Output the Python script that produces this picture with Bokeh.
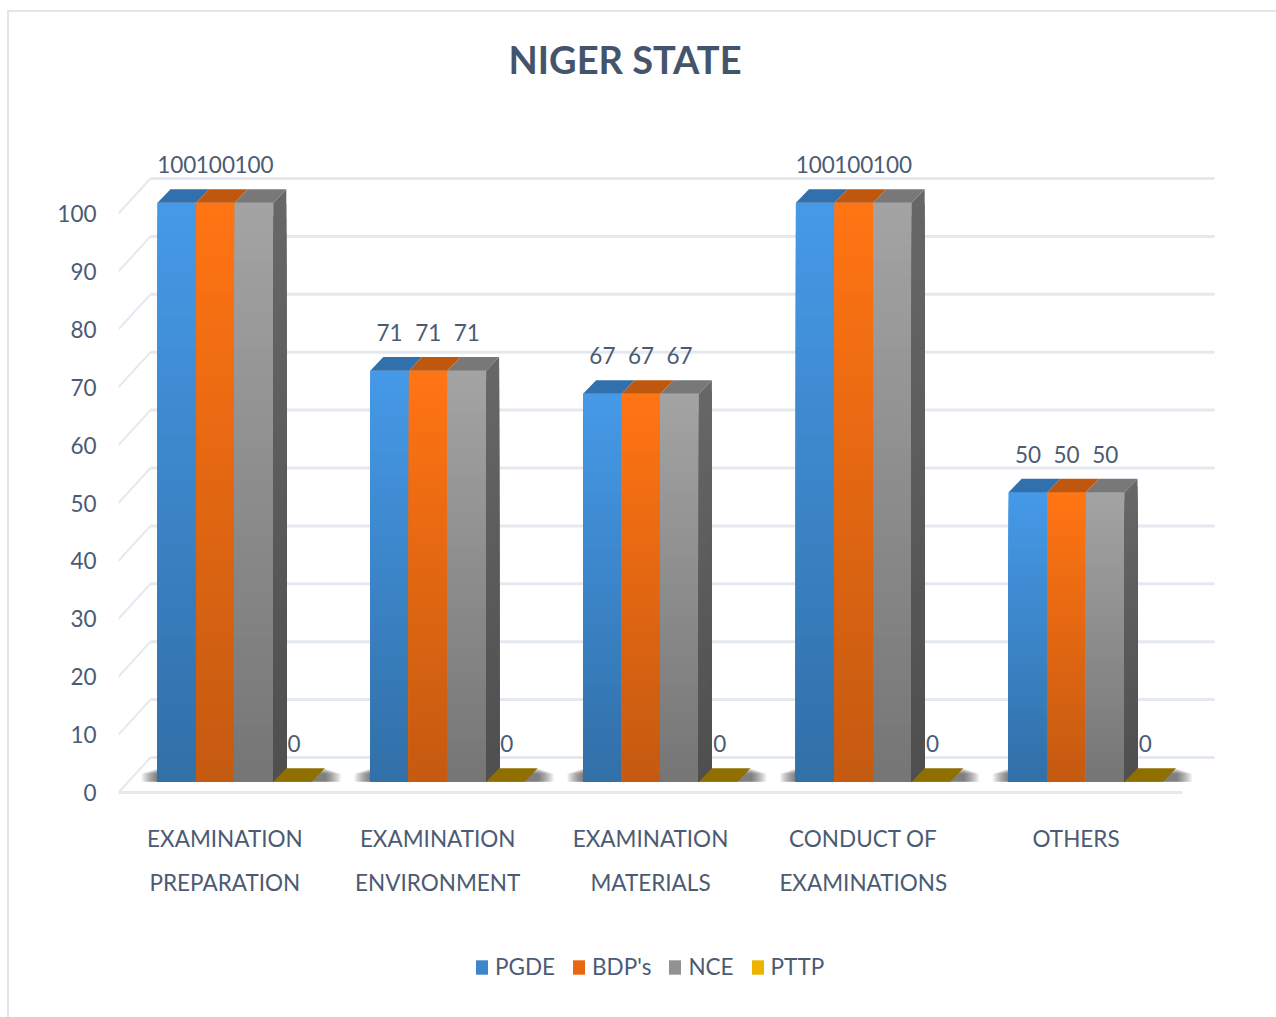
from bokeh.plotting import figure
from bokeh.layouts import column
from bokeh.models import Range1d, FixedTicker, Legend, LegendItem, ColumnDataSource, LinearAxis
from bokeh.core.properties import value
from bokeh.embed import file_html
from bokeh.resources import INLINE

categories = ["EXAMINATION\nPREPARATION", "EXAMINATION\nENVIRONMENT", "EXAMINATION\nMATERIALS",
              "CONDUCT OF\nEXAMINATIONS", "OTHERS"]
series_names = ["PGDE", "BDP's", "NCE", "PTTP"]
pgde = [100, 71, 67, 100, 50]
bdps = [100, 71, 67, 100, 50]
nce = [100, 71, 67, 100, 50]
pttp = [0, 0, 0, 0, 0]
y_ticks = [0, 10, 20, 30, 40, 50, 60, 70, 80, 90, 100]
title_text = "NIGER STATE"

FONT = "Lato"
FS = "22.5px"
TXT = "#4b5b73"
GRID = "#e4e8ef"

# colours: (top, bottom, top face, side top, side bottom, legend)
styles = [("#4599e7", "#3270a8", "#3270ad", None, None, "#3d86cb"),
          ("#ff7413", "#c55a11", "#c0570f", None, None, "#e8660f"),
          ("#a3a3a3", "#767676", "#787878", "#676767", "#4f4f4f", "#929292"),
          ("#ffc000", "#bf9000", "#8f6f00", None, None, "#ecb400")]

PX_X = 212.8          # pixels per category
PX_Y = 5.79           # pixels per y unit
WALL_X, WALL_Y = 32 / PX_X, 35 / PX_Y       # depth of the floor
FRONT_X, FRONT_Y = 10 / PX_X, 10.7 / PX_Y   # front plane of the bars
DEEP_X, DEEP_Y = 13 / PX_X, 13.6 / PX_Y     # depth of a bar
BAR = 38.6 / PX_X
GAP = 29 / PX_X
FRAME_W, FRAME_H = 1158, 703

p = figure(frame_width=FRAME_W, frame_height=FRAME_H, output_backend="svg", toolbar_location=None,
           x_range=Range1d(0, FRAME_W / PX_X), y_range=Range1d(0, FRAME_H / PX_Y),
           x_axis_type=None, y_axis_type=None,
           min_border_left=109, min_border_right=0, min_border_top=77, min_border_bottom=152,
           title=title_text)
p.outline_line_color = None
p.grid.visible = False
p.title.text_font = FONT
p.title.text_font_size = "38px"
p.title.text_font_style = "bold"
p.title.text_color = "#44546a"
p.title.align = "left"
p.title.offset = 390
p.title.standoff = 16

# axes
n = len(categories)
xaxis = LinearAxis(ticker=FixedTicker(ticks=[i + 0.5 for i in range(n)]),
                   major_label_overrides={i + 0.5: c for i, c in enumerate(categories)},
                   bounds=(0, n), axis_line_color=GRID, axis_line_width=3,
                   major_tick_line_color=None, minor_tick_line_color=None,
                   major_label_text_font=FONT, major_label_text_font_size=FS,
                   major_label_text_color=TXT, major_label_standoff=26,
                   major_label_text_line_height=1.64)
p.add_layout(xaxis, "below")
yaxis = LinearAxis(ticker=FixedTicker(ticks=y_ticks), axis_line_color=None,
                   major_tick_line_color=None, minor_tick_line_color=None,
                   major_label_text_font=FONT, major_label_text_font_size=FS,
                   major_label_text_color=TXT, major_label_standoff=16)
p.add_layout(yaxis, "left")

# walls
p.multi_line(xs=[[0, WALL_X] for _ in y_ticks], ys=[[v, v + WALL_Y] for v in y_ticks],
             line_color=GRID, line_width=2)
p.multi_line(xs=[[WALL_X, n + WALL_X] for _ in y_ticks], ys=[[v + WALL_Y] * 2 for v in y_ticks],
             line_color=GRID, line_width=3)


def mix(a, b, t):
    ca = [int(a[i:i + 2], 16) for i in (1, 3, 5)]
    cb = [int(b[i:i + 2], 16) for i in (1, 3, 5)]
    return "#%02x%02x%02x" % tuple(round(x + (y - x) * t) for x, y in zip(ca, cb))


def bar_left(i, s):
    return i + GAP + FRONT_X + s * BAR


# soft floor shadow
for e in range(16, 0, -1):
    p.quad(left=[bar_left(i, 0) - e / PX_X for i in range(n)],
           right=[bar_left(i, 4) + DEEP_X + e / PX_X for i in range(n)],
           bottom=[FRONT_Y] * n, top=[FRONT_Y + DEEP_Y * (1 - e / 40)] * n,
           fill_color="#303030", fill_alpha=0.05, line_color=None)

BANDS = 40
values = [pgde, bdps, nce, pttp]
for s, (name, vals, st) in enumerate(zip(series_names, values, styles)):
    lefts = [bar_left(i, s) for i in range(n)]
    rights = [l + BAR for l in lefts]
    p.quad(left=lefts, right=rights, bottom=[FRONT_Y] * n, top=[v + FRONT_Y for v in vals],
           fill_color=st[5], line_color=None)
    if max(vals) > 0:
        d = dict(left=[], right=[], top=[], bottom=[], color=[])
        for i, v in enumerate(vals):
            for k in range(BANDS):
                d["left"].append(lefts[i])
                d["right"].append(rights[i])
                d["top"].append(FRONT_Y + v * (1 - k / BANDS))
                d["bottom"].append(FRONT_Y)
                d["color"].append(mix(st[0], st[1], k / (BANDS - 1)))
        p.quad(left="left", right="right", top="top", bottom="bottom", fill_color="color",
               line_color=None, source=ColumnDataSource(d))
    if st[3]:
        xs, ys, cs = [], [], []
        for i, v in enumerate(vals):
            for k in range(BANDS):
                t0 = v * (1 - k / BANDS)
                r = rights[i]
                xs.append([r, r + DEEP_X, r + DEEP_X, r])
                ys.append([FRONT_Y + t0, FRONT_Y + t0 + DEEP_Y, FRONT_Y + DEEP_Y, FRONT_Y])
                cs.append(mix(st[3], st[4], k / (BANDS - 1)))
        p.patches(xs, ys, fill_color=cs, line_color=None)
    p.patches([[l, r, r + DEEP_X, l + DEEP_X] for l, r in zip(lefts, rights)],
              [[v + FRONT_Y, v + FRONT_Y, v + FRONT_Y + DEEP_Y, v + FRONT_Y + DEEP_Y] for v in vals],
              fill_color=st[2], line_color=None)

# data labels
for s, vals in enumerate(values):
    p.text(x=[bar_left(i, s) + BAR / 2 + (1.5 if s == 3 else 0) / PX_X for i in range(n)],
           y=[v + FRONT_Y for v in vals], text=[str(v) for v in vals],
           text_font=value(FONT), text_font_size=FS, text_color=TXT,
           text_align="center", text_baseline="middle", y_offset=-38)

# legend strip below the chart (keys come from glyphs parked outside the strip's range)
q = figure(frame_width=1267, frame_height=73, output_backend="svg", toolbar_location=None,
           x_range=Range1d(0, 1), y_range=Range1d(0, 1), x_axis_type=None, y_axis_type=None,
           min_border=0)
q.outline_line_color = None
q.grid.visible = False
items = []
for name, st in zip(series_names, styles):
    r = q.quad(left=[2], right=[3], top=[3], bottom=[2], fill_color=st[5], line_color=None)
    items.append(LegendItem(label=name, renderers=[r]))
legend = Legend(items=items, orientation="horizontal", location=(465, 37),
                glyph_width=15, glyph_height=18, label_standoff=6, spacing=16, padding=0,
                margin=0, border_line_color=None, background_fill_alpha=0,
                label_text_font=FONT, label_text_font_size=FS, label_text_color=TXT)
q.add_layout(legend, "center")

page = column(p, q, spacing=0,
              styles={"margin-left": "7px", "margin-top": "10px",
                      "border-left": "2px solid #e1e5ee", "border-top": "2px solid #e1e5ee"})

open("out.html", "w").write(file_html(page, INLINE))
